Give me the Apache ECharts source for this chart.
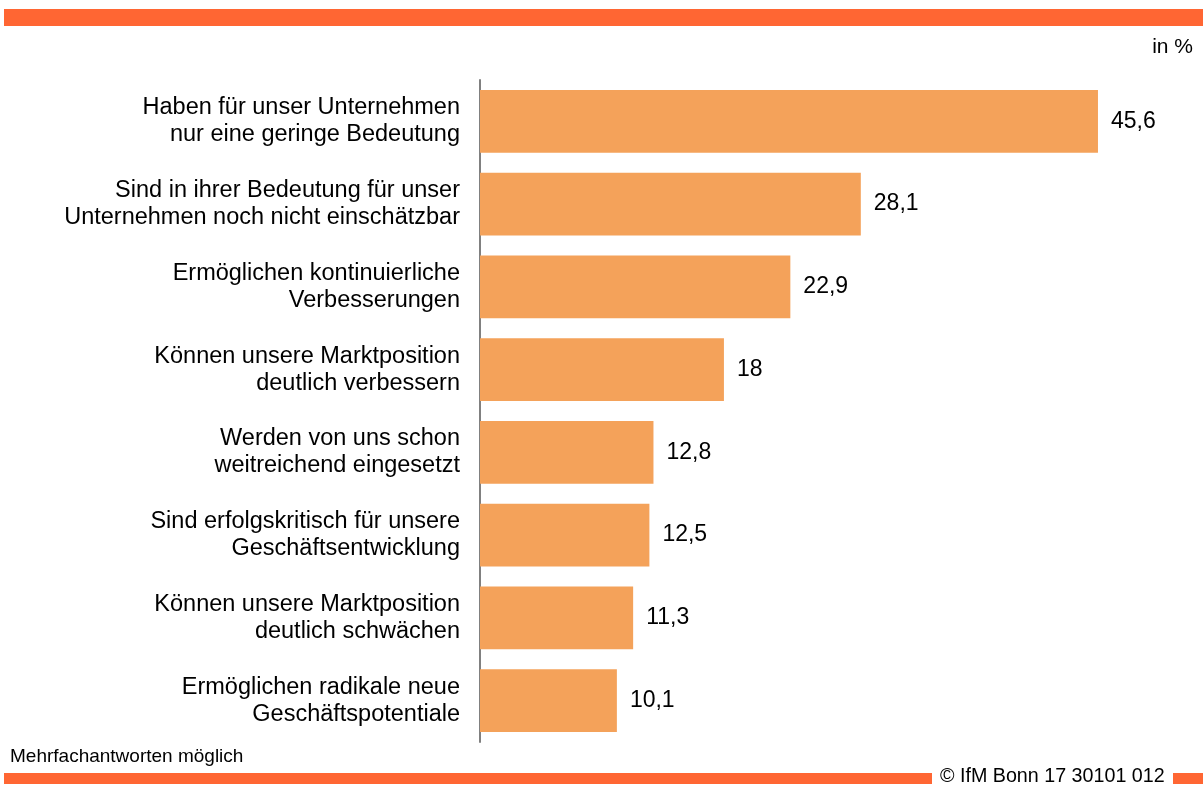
<!DOCTYPE html>
<html>
<head>
<meta charset="utf-8">
<script src="https://cdn.jsdelivr.net/npm/echarts@6/dist/echarts.min.js"></script>
<style>
  html, body { margin: 0; padding: 0; background: #fff; }
  #chart { width: 1203px; height: 785px; }
</style>
</head>
<body>
<div id="chart"></div>
<script>
// categories, top to bottom
var categories = [
    'Haben für unser Unternehmen\nnur eine geringe Bedeutung',
    'Sind in ihrer Bedeutung für unser\nUnternehmen noch nicht einschätzbar',
    'Ermöglichen kontinuierliche\nVerbesserungen',
    'Können unsere Marktposition\ndeutlich verbessern',
    'Werden von uns schon\nweitreichend eingesetzt',
    'Sind erfolgskritisch für unsere\nGeschäftsentwicklung',
    'Können unsere Marktposition\ndeutlich schwächen',
    'Ermöglichen radikale neue\nGeschäftspotentiale'
];
var values = [45.6, 28.1, 22.9, 18, 12.8, 12.5, 11.3, 10.1];

var orange = '#FF6633';
var barColor = '#F4A25A';
var font = 'Liberation Sans, Arial, sans-serif';

function init() {
    var chart = echarts.init(document.getElementById('chart'));
    var option = {
        animation: false,
        grid: { left: 480, top: 80, width: 677.6, height: 662 },
        xAxis: {
            type: 'value', min: 0, max: 50,
            show: false
        },
        yAxis: {
            type: 'category',
            data: categories,
            inverse: true,
            axisLine: { show: true, lineStyle: { color: '#808080', width: 2 } },
            axisTick: { show: false },
            axisLabel: {
                margin: 20, color: '#000', fontSize: 23.5, fontFamily: font,
                lineHeight: 27, align: 'right'
            }
        },
        series: [{
            type: 'bar',
            data: values,
            barCategoryGap: '24%',
            itemStyle: { color: barColor },
            label: {
                show: true, position: 'right', distance: 13,
                color: '#000', fontSize: 23, fontFamily: font,
                formatter: function (p) { return String(p.value).replace('.', ','); }
            }
        }],
        graphic: [
            { type: 'rect', shape: { x: 4, y: 9, width: 1199, height: 17 }, style: { fill: orange } },
            { type: 'text', right: 10, top: 37, style: { text: 'in %', fill: '#000', font: '21px ' + font } },
            { type: 'text', left: 10, top: 747, style: { text: 'Mehrfachantworten möglich', fill: '#000', font: '19px ' + font } },
            { type: 'rect', shape: { x: 4, y: 773, width: 928, height: 11 }, style: { fill: orange } },
            { type: 'text', left: 940, top: 767, style: { text: '© IfM Bonn 17 30101 012', fill: '#000', font: '19.7px ' + font } },
            { type: 'rect', shape: { x: 1173, y: 773, width: 30, height: 11 }, style: { fill: orange } }
        ]
    };
    chart.setOption(option);
}

window.addEventListener('load', init, false);
</script>
</body>
</html>
